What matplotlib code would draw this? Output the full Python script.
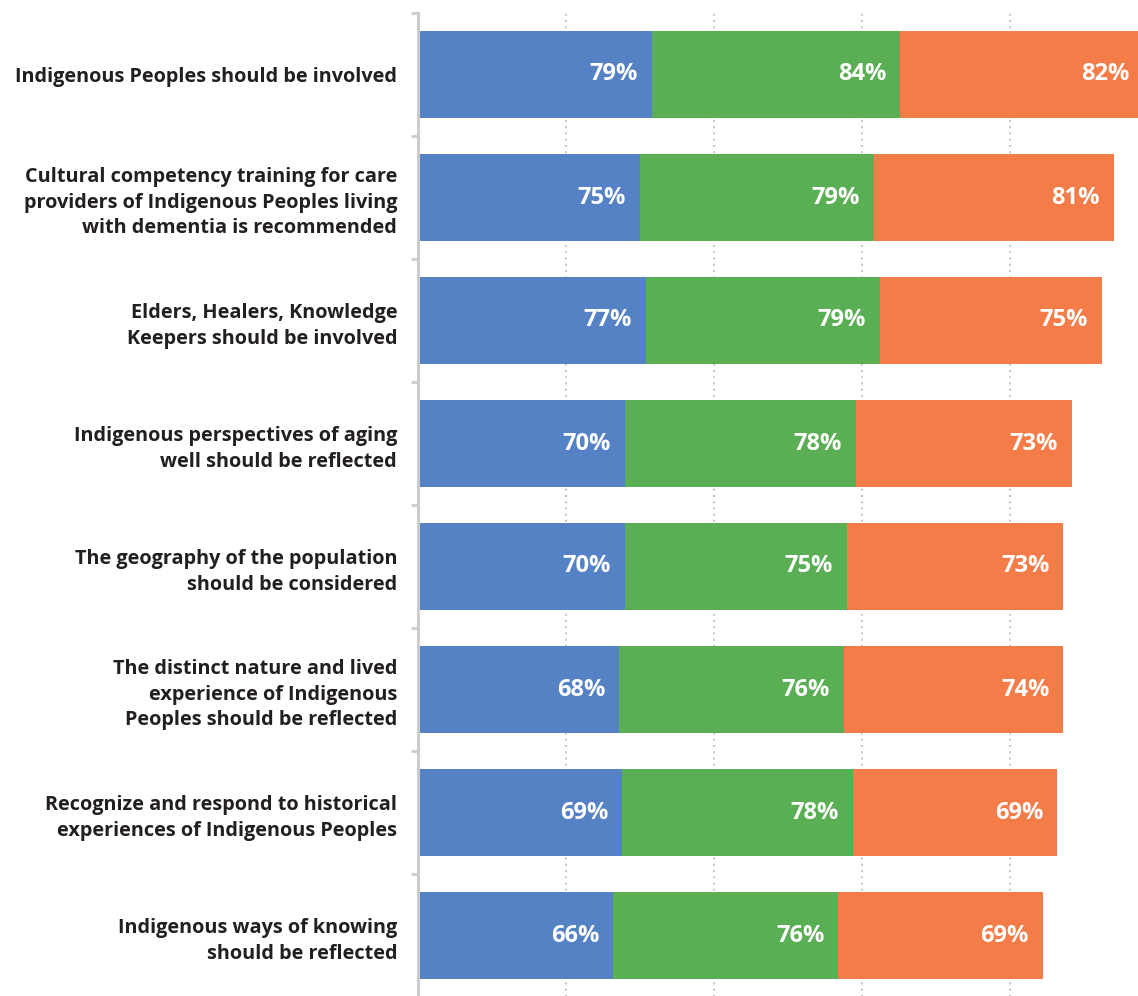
import matplotlib.pyplot as plt
from matplotlib.ticker import FixedLocator

# survey statements, top to bottom
statements = [
    "Indigenous Peoples should be involved",
    "Cultural competency training for care\nproviders of Indigenous Peoples living\nwith dementia is recommended",
    "Elders, Healers, Knowledge\nKeepers should be involved",
    "Indigenous perspectives of aging\nwell should be reflected",
    "The geography of the population\nshould be considered",
    "The distinct nature and lived\nexperience of Indigenous\nPeoples should be reflected",
    "Recognize and respond to historical\nexperiences of Indigenous Peoples",
    "Indigenous ways of knowing\nshould be reflected",
]
blue_vals = [79, 75, 77, 70, 70, 68, 69, 66]
green_vals = [84, 79, 79, 78, 75, 76, 78, 76]
orange_vals = [82, 81, 75, 73, 73, 74, 69, 69]

colors = ["#5582C5", "#5AAF55", "#F37C48"]

plt.rcParams['font.family'] = ['Open Sans', 'DejaVu Sans']

fig = plt.figure(figsize=(11.38, 9.96), dpi=100)
ax = fig.add_axes([418 / 1138, -1 / 996, 720 / 1138, 984 / 996])

y = list(range(len(statements)))
left = [0] * len(statements)
for vals, col in zip([blue_vals, green_vals, orange_vals], colors):
    ax.barh(y, vals, left=left, height=0.715, color=col, zorder=2)
    for yi, l, v in zip(y, left, vals):
        ax.annotate(f"{v}%", xy=(l + v, yi), xytext=(-14, 0),
                    textcoords='offset pixels', ha='right', va='center',
                    color='white', fontsize=17, fontweight='bold', zorder=3,
                    annotation_clip=False)
    left = [l + v for l, v in zip(left, vals)]

ax.set_xlim(0, 720 / 2.96)
ax.set_ylim(len(statements) - 0.5, -0.5)

# dotted vertical grid
ax.set_xticks([50, 100, 150, 200])
ax.tick_params(axis='x', length=0, labelbottom=False)
ax.grid(axis='x', color='#c8c8c8', linestyle=(0, (1, 2)), linewidth=1.5, zorder=0)
ax.set_axisbelow(True)

ax.set_yticks(y)
ax.set_yticklabels(statements, fontsize=14.3, fontweight='bold', color='#231f20',
                   linespacing=1.37)
ax.yaxis.set_minor_locator(FixedLocator([i - 0.5 for i in range(len(statements) + 1)]))
ax.tick_params(axis='y', which='major', length=0, pad=15)
ax.tick_params(axis='y', which='minor', length=5, width=2, color='#cccccc')

for s in ['top', 'right', 'bottom']:
    ax.spines[s].set_visible(False)
ax.spines['left'].set_color('#cccccc')
ax.spines['left'].set_linewidth(2.2)

fig.savefig("out.png", dpi=100)
